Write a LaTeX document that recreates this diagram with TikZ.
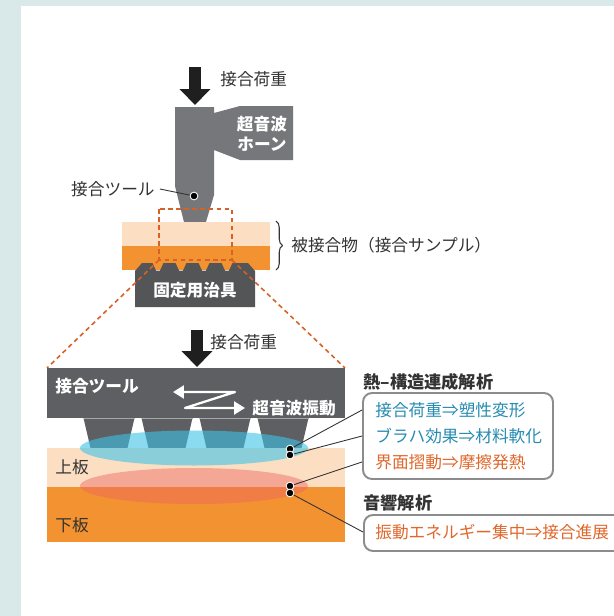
\documentclass[tikz,border=0pt]{standalone}
\usepackage{fontspec}
\setmainfont{Noto Sans CJK JP}
\usetikzlibrary{arrows.meta,decorations.pathreplacing}
\definecolor{bgstrip}{RGB}{217,232,232}
\definecolor{horngray}{RGB}{118,119,122}
\definecolor{jiggray}{RGB}{84,85,87}
\definecolor{toolgray}{RGB}{94,95,98}
\definecolor{peach}{RGB}{252,223,195}
\definecolor{plateorange}{RGB}{243,146,48}
\definecolor{zoomorange}{RGB}{216,98,38}
\definecolor{txtgray}{RGB}{51,51,51}
\definecolor{heatblue}{RGB}{40,140,178}
\definecolor{heatorange}{RGB}{224,104,44}
\definecolor{zonecyan}{RGB}{61,196,230}
\definecolor{zonered}{RGB}{236,100,95}
\definecolor{boxgray}{RGB}{140,140,142}

\begin{document}
\begin{tikzpicture}[line join=round,x=0.02cm,y=-0.02cm,
	font=\fontsize{9.5}{11.5}\selectfont,
	plaintxt/.style={text=txtgray,inner sep=0pt},
	whitebold/.style={text=white,font=\fontsize{9.5}{11.5}\selectfont\bfseries,inner sep=0pt},
	heading/.style={text=txtgray,font=\fontsize{9.8}{11.5}\selectfont\bfseries,inner sep=0pt,anchor=west},
	loadarrow/.style={draw=black!88,line width=0.24cm,-{Triangle[length=0.32cm,width=0.6cm]}},
	zoomline/.style={draw=zoomorange,line width=0.9pt,dash pattern=on 2.6pt off 2pt},
	leader/.style={draw=txtgray,line width=0.5pt},
	leaderdot/.style={circle,fill=black,draw=white,line width=0.5pt,inner sep=0pt,minimum size=4.4pt},
	resultbox/.style={draw=boxgray,line width=1.1pt,rounded corners=0.18cm,inner sep=0pt}]
	\clip(0,0) rectangle (614,616);
	% backdrop
	\fill[bgstrip] (0,0) rectangle (614,616);
	\fill[white] (21,6) rectangle (614,616);

	% --- overview: horn, sample, jig ---
	\draw [loadarrow] (195,67)-- (195,105);
	\node[plaintxt,anchor=west] (loadtop) at (220,79) {接合荷重};
	\fill[horngray] (175,107) -- (214,107) -- (214,113) -- (240,106) -- (293,106) -- (293,160) -- (240,160) -- (214,150) -- (214,195) -- (206,222) -- (184,222) -- (175,186) -- cycle;
	\node[whitebold,align=center] (horntxt) at (262,134) {超音波\\ホーン};
	\node[leaderdot] (tooldot) at (194,196) {};
	\node[plaintxt,anchor=east] (tooltxt) at (155,189) {接合ツール};
	\draw [leader] ([xshift=0.1cm]tooltxt.east)-- (tooldot);

	\fill[peach] (122,222) rectangle (270,246);
	\fill[plateorange] (122,246) rectangle (270,270);
	\fill[jiggray] (135,307) -- (135,271) -- (142,263)
		\foreach \c in {158,181,204,227} { -- (\c-5.5,263) -- (\c-2,270.5) -- (\c+2,270.5) -- (\c+5.5,263) }
		-- (248,263) -- (255,271) -- (255,307) -- cycle;
	\node[whitebold] (jigtxt) at (195,290) {固定用治具};
	\draw [decorate,decoration={brace,amplitude=0.13cm},draw=txtgray,line width=0.6pt] (276,221)-- (276,270);
	\node[plaintxt,anchor=west] (sampletxt) at (291,245) {被接合物（接合サンプル）};

	% zoom frame and its rays
	\draw [zoomline] (159,209) rectangle (232,260);
	\coordinate (zoomsw) at (159,260);
	\coordinate (zoomse) at (232,260);
	\coordinate (detailnw) at (47,368);
	\coordinate (detailne) at (345,368);
	\draw [zoomline] (zoomsw)-- (detailnw);
	\draw [zoomline] (zoomse)-- (detailne);

	% --- close-up of the joint ---
	\fill[toolgray] (detailnw) rectangle (345,418);
	\foreach \c in {109,167,225,283} {
		\fill[toolgray] (\c-25.5,418) -- (\c+25.5,418) -- (\c+18.5,448) -- (\c-18.5,448) -- cycle;
		\draw [color=gray!70,line width=0.4pt] (\c-25.5,418.5)-- (\c+25.5,418.5);
	}
	\fill[peach] (47,448) rectangle (345,487);
	\fill[plateorange] (47,487) rectangle (345,542);
	\fill[zonecyan,fill opacity=0.6] (194,448) ellipse [x radius=114,y radius=17.5];
	\fill[zonered,fill opacity=0.45] (194,486) ellipse [x radius=114,y radius=18];

	\draw [loadarrow] (197,330)-- (197,367);
	\node[plaintxt,anchor=west] (loaddetail) at (210,342) {接合荷重};
	\node[whitebold,anchor=west] (tooldetail) at (55,386) {接合ツール};
	\draw [white,line width=1.3pt,{Triangle[length=0.22cm,width=0.26cm]}-{Triangle[length=0.22cm,width=0.26cm]}] (173,392) -- (235,392) -- (185,408) -- (245,408);
	\node[whitebold,anchor=west] (vibtxt) at (252,408) {超音波振動};
	\node[plaintxt,anchor=west] (uppertxt) at (55,467) {上板};
	\node[plaintxt,anchor=west] (lowertxt) at (55,525) {下板};

	% --- analysis boxes ---
	\node[heading] (thermhead) at (363,382) {熱–構造連成解析};
	\node[resultbox,minimum width=3.8cm,minimum height=1.72cm] (thermbox) at (458,436) {};
	\node[plaintxt,text=heatblue,anchor=west] (res1) at (375,410) {接合荷重⇒塑性変形};
	\node[plaintxt,text=heatblue,anchor=west] (res2) at (375,436) {ブラハ効果⇒材料軟化};
	\node[plaintxt,text=heatorange,anchor=west] (res3) at (375,462) {界面摺動⇒摩擦発熱};
	\node[heading] (acoustichead) at (363,503) {音響解析};
	\node[resultbox,minimum width=5.6cm,minimum height=0.72cm,anchor=west] (acbox) at (363,533) {};
	\node[plaintxt,text=heatorange,anchor=west] (res4) at (375,532) {振動エネルギー集中⇒接合進展};

	% leaders from the zones to the boxes
	\node[leaderdot] (dot1) at (290,449) {};
	\node[leaderdot] (dot2) at (290,455) {};
	\node[leaderdot] (dot3) at (290,486) {};
	\node[leaderdot] (dot4) at (290,493) {};
	\draw [leader] (dot1)-- (res1 -| thermbox.west);
	\draw [leader] (dot2)-- (res2 -| thermbox.west);
	\draw [leader] (dot3)-- (res3 -| thermbox.west);
	\draw [leader] (dot4)-- (res4 -| acbox.west);
\end{tikzpicture}
\end{document}
